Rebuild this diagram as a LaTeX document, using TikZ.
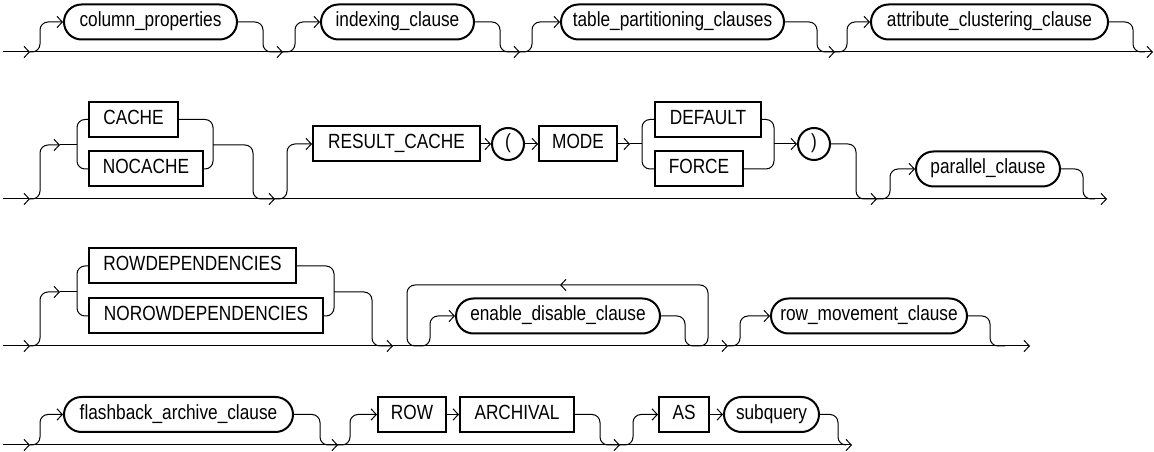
\documentclass[tikz,border=0pt]{standalone}
\usepackage{fontspec}
\setmainfont{Liberation Sans}[FakeStretch=0.84]
\usetikzlibrary{arrows.meta,shapes.misc}
\begin{document}
\begin{tikzpicture}[x=0.75pt,y=-0.75pt,
  font=\fontsize{15.4}{17}\selectfont,
  conn/.style={line width=0.75pt, rounded corners=6pt},
  arr/.style={-{Straight Barb[length=4pt,width=8.5pt]}},
  box/.style={draw, line width=1.5pt, minimum height=35*0.75pt, inner sep=0pt,
    text height=0.84em, text depth=0.14em, anchor=west},
  nt/.style={box, rounded rectangle},
  kw/.style={box, rectangle},
  ci/.style={draw, line width=1.5pt, circle, minimum size=32*0.75pt, inner sep=0pt,
    text height=0.84em, text depth=0.14em},
  w/.style={minimum width=#1*0.75pt}]
\useasboundingbox (0,0) rectangle (1154,452);

% ---------------- Row 1 ----------------
\coordinate (s1) at (3,52);
\coordinate (a1) at (30,52);
\coordinate (a2) at (283,52);
\coordinate (a3) at (520,52);
\coordinate (a4) at (835,52);
\coordinate (e1) at (1153,52);
\node[nt,w=173] (cp) at (63,22) {column\_properties};
\node[nt,w=153] (ic) at (320,22) {indexing\_clause};
\node[nt,w=223] (tp) at (560,22) {table\_partitioning\_clauses};
\node[nt,w=237] (ac) at (870,22) {attribute\_clustering\_clause};
\draw[conn,arr] (s1) -- (a1);
\draw[conn,arr] (a1) -- (a2);
\draw[conn,arr] (a2) -- (a3);
\draw[conn,arr] (a3) -- (a4);
\draw[conn,arr] (a4) -- (e1);
\draw[conn,arr] (a1) -- (40,52) |- (cp.west);
\draw[conn] (cp.east) -| (263,52) -- (a2);
\draw[conn,arr] (a2) -- (295,52) |- (ic.west);
\draw[conn] (ic.east) -| (500,52) -- (a3);
\draw[conn,arr] (a3) -- (532,52) |- (tp.west);
\draw[conn] (tp.east) -| (817,52) -- (a4);
\draw[conn,arr] (a4) -- (847,52) |- (ac.west);
\draw[conn] (ac.east) -| (1133,52) -- (1145,52);

% ---------------- Row 2 ----------------
\coordinate (s2) at (3,199);
\coordinate (b1) at (30,199);
\coordinate (b2) at (275,199);
\coordinate (b3) at (877,199);
\coordinate (e2) at (1107,199);
\coordinate (k1) at (60,145);
\coordinate (j1) at (213,145);
\coordinate (k2) at (630,144);
\coordinate (j2) at (774,144);
\node[kw,w=89] (cache) at (88,119.5) {CACHE};
\node[kw,w=114] (nocache) at (88,169) {NOCACHE};
\node[kw,w=167] (rc) at (312,144) {RESULT\_CACHE};
\node[ci] (lp) at (508,144) {(};
\node[kw,w=78] (mode) at (538,144) {MODE};
\node[kw,w=106] (def) at (654,119.5) {DEFAULT};
\node[kw,w=88] (force) at (654,169) {FORCE};
\node[ci] (rp) at (814,144) {)};
\node[nt,w=144] (pc) at (915,169) {parallel\_clause};
\draw[conn,arr] (s2) -- (b1);
\draw[conn,arr] (b1) -- (b2);
\draw[conn,arr] (b2) -- (b3);
\draw[conn,arr] (b3) -- (e2);
\draw[conn,arr] (b1) -- (40,199) |- (k1);
\draw[conn] (k1) -- (77,145);
\draw[conn] (cache.west) -- (77,119.5) -- (77,169) -- (nocache.west);
\draw[conn] (cache.east) -- (213,119.5) -- (213,169) -- (nocache.east);
\draw[conn] (j1) -| (253,199) -- (b2);
\draw[conn,arr] (b2) -- (287,199) |- (rc.west);
\draw[conn,arr] (rc.east) -- (lp.west);
\draw[conn,arr] (lp.east) -- (mode.west);
\draw[conn,arr] (mode.east) -- (k2);
\draw[conn] (k2) -- (642,144);
\draw[conn] (def.west) -- (642,119.5) -- (642,169) -- (force.west);
\draw[conn] (def.east) -- (774,119.5) -- (774,169) -- (force.east);
\draw[conn,arr] (j2) -- (rp.west);
\draw[conn] (rp.east) -| (856,199) -- (b3);
\draw[conn,arr] (b3) -- (890,199) |- (pc.west);
\draw[conn] (pc.east) -| (1083,199) -- (1095,199);

% ---------------- Row 3 ----------------
\coordinate (s3) at (3,346);
\coordinate (d1) at (30,346);
\coordinate (d2) at (393,346);
\coordinate (d3) at (728,346);
\coordinate (e3) at (1030,346);
\coordinate (k3) at (60,292);
\coordinate (j3) at (334,292);
\coordinate (lk) at (560,285);
\node[kw,w=207] (rd) at (88,266) {ROWDEPENDENCIES};
\node[kw,w=234] (nrd) at (88,316) {NOROWDEPENDENCIES};
\node[nt,w=204] (ed) at (455,316) {enable\_disable\_clause};
\node[nt,w=196] (rm) at (770,316) {row\_movement\_clause};
\draw[conn,arr] (s3) -- (d1);
\draw[conn,arr] (d1) -- (d2);
\draw[conn,arr] (d2) -- (d3);
\draw[conn,arr] (d3) -- (e3);
\draw[conn,arr] (d1) -- (40,346) |- (k3);
\draw[conn] (k3) -- (77,292);
\draw[conn] (rd.west) -- (77,266) -- (77,316) -- (nrd.west);
\draw[conn] (rd.east) -- (334,266) -- (334,316) -- (nrd.east);
\draw[conn] (j3) -| (372,346) -- (d2);
\draw[conn,arr] (ed.east) -- (685,316) -- (685,346) -- (708,346) -- (708,285) -- (lk);
\draw[conn,arr] (lk) -- (407,285) -- (407,346) -- (430,346) -- (430,316) -- (ed.west);
\draw[conn,arr] (d3) -- (740,346) |- (rm.west);
\draw[conn] (rm.east) -| (990,346) -- (1005,346);

% ---------------- Row 4 ----------------
\coordinate (s4) at (3,445);
\coordinate (f1) at (30,445);
\coordinate (f2) at (338,445);
\coordinate (f3) at (620,445);
\coordinate (e4) at (852,445);
\node[nt,w=229] (fb) at (63,414.5) {flashback\_archive\_clause};
\node[kw,w=68] (row) at (377,414.5) {ROW};
\node[kw,w=114] (arch) at (459,414.5) {ARCHIVAL};
\node[kw,w=50] (as) at (658,414.5) {AS};
\node[nt,w=95] (sq) at (723,414.5) {subquery};
\draw[conn,arr] (s4) -- (f1);
\draw[conn,arr] (f1) -- (f2);
\draw[conn,arr] (f2) -- (f3);
\draw[conn,arr] (f3) -- (e4);
\draw[conn,arr] (f1) -- (40,445) |- (fb.west);
\draw[conn] (fb.east) -| (320,445) -- (f2);
\draw[conn,arr] (f2) -- (350,445) |- (row.west);
\draw[conn,arr] (row.east) -- (arch.west);
\draw[conn] (arch.east) -| (600,445) -- (f3);
\draw[conn,arr] (f3) -- (633,445) |- (as.west);
\draw[conn,arr] (as.east) -- (sq.west);
\draw[conn] (sq.east) -| (838,445) -- (845,445);
\end{tikzpicture}
\end{document}
